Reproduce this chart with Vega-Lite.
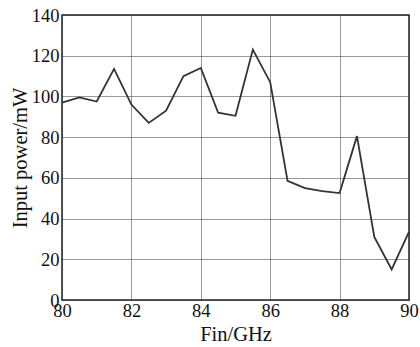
{
  "$schema": "https://vega.github.io/schema/vega-lite/v6.json",
  "width": 347,
  "height": 285,
  "autosize": {"type": "none"},
  "padding": {"left": 62, "top": 15, "right": 11, "bottom": 47},
  "background": "white",
  "config": {
    "view": {"stroke": "#222", "strokeWidth": 1.5},
    "font": "Liberation Serif"
  },
  "data": {
    "values": [
      {"f": 80, "p": 97},
      {"f": 80.5, "p": 99.5},
      {"f": 81, "p": 97.5},
      {"f": 81.5, "p": 113.5},
      {"f": 82, "p": 96},
      {"f": 82.5, "p": 87},
      {"f": 83, "p": 93},
      {"f": 83.5, "p": 110},
      {"f": 84, "p": 114},
      {"f": 84.5, "p": 92},
      {"f": 85, "p": 90.5},
      {"f": 85.5, "p": 123},
      {"f": 86, "p": 107},
      {"f": 86.5, "p": 58.5},
      {"f": 87, "p": 55},
      {"f": 87.5, "p": 53.5},
      {"f": 88, "p": 52.5},
      {"f": 88.5, "p": 80.5},
      {"f": 89, "p": 31},
      {"f": 89.5, "p": 15},
      {"f": 90, "p": 33.5}
    ]
  },
  "mark": {"type": "line", "color": "#333", "strokeWidth": 1.8},
  "encoding": {
    "x": {
      "field": "f", "type": "quantitative",
      "scale": {"domain": [80, 90], "nice": false, "zero": false},
      "axis": {
        "title": "Fin/GHz", "values": [80, 82, 84, 86, 88, 90],
        "labelFont": "Liberation Serif", "labelFontSize": 18.5, "labelColor": "#111",
        "titleFont": "Liberation Serif", "titleFontSize": 20.5, "titleFontWeight": "normal", "titleColor": "#111",
        "titlePadding": 5, "labelPadding": 1, "ticks": false, "domain": false,
        "grid": true, "gridColor": "#333", "gridDash": [1, 1], "gridWidth": 1,
        "labelFlush": false
      }
    },
    "y": {
      "field": "p", "type": "quantitative",
      "scale": {"domain": [0, 140], "nice": false},
      "axis": {
        "title": "Input power/mW", "values": [0, 20, 40, 60, 80, 100, 120, 140],
        "labelFont": "Liberation Serif", "labelFontSize": 18.5, "labelColor": "#111",
        "titleFont": "Liberation Serif", "titleFontSize": 20.5, "titleFontWeight": "normal", "titleColor": "#111",
        "titlePadding": 1, "labelPadding": 3, "ticks": false, "domain": false,
        "grid": true, "gridColor": "#333", "gridDash": [1, 1], "gridWidth": 1,
        "labelFlush": false
      }
    }
  }
}
